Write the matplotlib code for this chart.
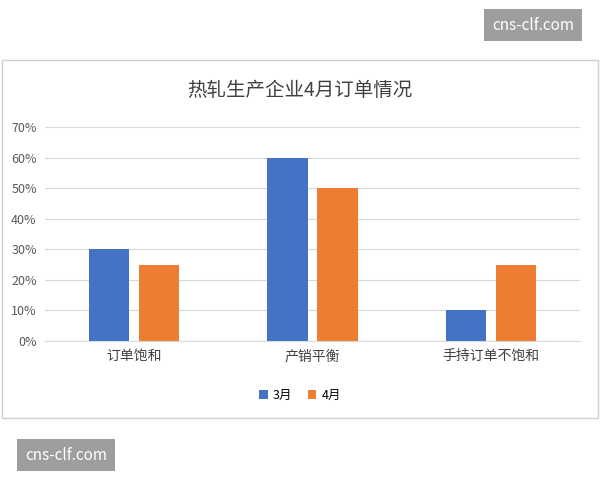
import matplotlib
matplotlib.use("Agg")
import matplotlib.pyplot as plt
from matplotlib.patches import Rectangle
import numpy as np

plt.rcParams['font.family'] = ['Noto Sans CJK SC', 'DejaVu Sans']

categories = ["订单饱和", "产销平衡", "手持订单不饱和"]
march = [30, 60, 10]
april = [25, 50, 25]
yticks = [0, 10, 20, 30, 40, 50, 60, 70]

fig = plt.figure(figsize=(6, 4.8), dpi=100)
fig.patch.set_facecolor("white")
fig.add_artist(Rectangle((2/600, 1-418/480), 596/600, 358/480, transform=fig.transFigure,
                         fill=False, edgecolor="#d0d0d0", lw=1))
ax = fig.add_axes([45/600, 1-341/480, 535/600, 214/480])
x = np.arange(len(categories))
w = 0.225
ax.bar(x - 0.14, march, w, color="#4472C4", label="3月")
ax.bar(x + 0.14, april, w, color="#ED7D31", label="4月")
ax.set_xlim(-0.5, 2.5)
ax.set_ylim(0, 70)
ax.set_yticks(yticks)
ax.set_yticklabels([f"{v}%" for v in yticks], color="#595959", fontsize=9)
ax.set_xticks(x)
ax.set_xticklabels(categories, color="#404040", fontsize=10)
ax.grid(axis="y", color="#d9d9d9", lw=0.8)
ax.set_axisbelow(True)
for s in ["top", "right", "left"]:
    ax.spines[s].set_visible(False)
ax.spines["bottom"].set_color("#d9d9d9")
ax.tick_params(length=0, pad=6)
fig.text(0.5, 1-90/480, "热轧生产企业4月订单情况", ha="center", va="center", fontsize=14, color="#404040")
fig.legend(loc="center", bbox_to_anchor=(0.5, 1-395/480), ncol=2, frameon=False,
           fontsize=9, handlelength=0.7, handleheight=0.7, columnspacing=1.2, handletextpad=0.4)
fig.text(533/600, 1-25/480, "cns-clf.com", ha="center", va="center", fontsize=11, color="white",
         bbox=dict(boxstyle="square,pad=0.5", fc="#9e9e9e", ec="none"))
fig.text(66/600, 1-455/480, "cns-clf.com", ha="center", va="center", fontsize=11, color="white",
         bbox=dict(boxstyle="square,pad=0.5", fc="#9e9e9e", ec="none"))
fig.savefig("out.png", dpi=100)
